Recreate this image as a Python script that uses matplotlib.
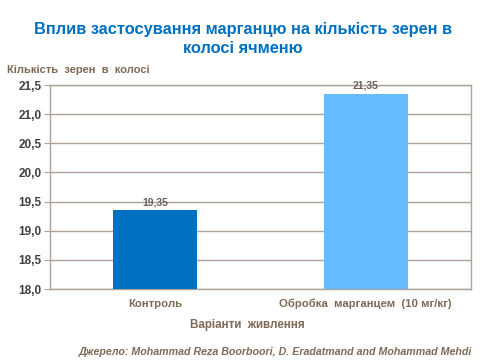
import matplotlib
matplotlib.use("Agg")
import matplotlib.pyplot as plt

categories = ["Контроль", "Обробка  марганцем  (10 мг/кг)"]
values = [19.35, 21.35]
value_labels = ["19,35", "21,35"]
yticks = [18.0, 18.5, 19.0, 19.5, 20.0, 20.5, 21.0, 21.5]
ytick_labels = ["18,0", "18,5", "19,0", "19,5", "20,0", "20,5", "21,0", "21,5"]
bar_colors = ["#0070C0", "#66BBFF"]

plt.rcParams['font.family'] = ['Liberation Sans', 'DejaVu Sans']

fig = plt.figure(figsize=(4.8, 3.6), dpi=100)
W, H = 480, 360
left, right, top, bottom = 50, 471, 85, 289
ax = fig.add_axes([left / W, 1 - bottom / H, (right - left) / W, (bottom - top) / H])

text_brown = "#7F6A55"
grid_col = "#ADA397"

x = list(range(len(categories)))
ax.bar(x, values, width=0.4, color=bar_colors, zorder=3)
ax.set_xlim(-0.5, 1.5)
ax.set_ylim(18.0, 21.5)
ax.set_yticks(yticks)
ax.set_yticklabels(ytick_labels, fontsize=8.5, fontweight='bold', color="#404040")
ax.set_xticks(x)
ax.set_xticklabels(categories, fontsize=8.2, fontweight='bold', color=text_brown)
ax.tick_params(axis='y', length=4, color=grid_col, pad=2)
ax.tick_params(axis='x', length=0, pad=7)
ax.grid(axis='y', color=grid_col, linewidth=1, zorder=1)
for s in ax.spines.values():
    s.set_color(grid_col)
    s.set_linewidth(1)

for xi, v, lab in zip(x, values, value_labels):
    ax.annotate(lab, (xi, v), xytext=(0, 2), textcoords='offset points',
                ha='center', va='bottom', fontsize=7.5, fontweight='bold',
                color="#6B6258", zorder=4)

fig.text(247 / W, 1 - 325 / H, "Варіанти  живлення", ha='center', va='center',
         fontsize=8.4, fontweight='bold', color=text_brown)
fig.text(7 / W, 1 - 70 / H, "Кількість  зерен  в  колосі", ha='left', va='center',
         fontsize=8.0, fontweight='bold', color=text_brown)
fig.text(243 / W, 1 - 39 / H, "Вплив застосування марганцю на кількість зерен в\nколосі ячменю",
         ha='center', va='center', fontsize=11.8, fontweight='bold', color="#0070C0",
         linespacing=1.3)
fig.text(472 / W, 1 - 352 / H,
         "Джерело: Mohammad Reza Boorboori, D. Eradatmand and Mohammad Mehdi",
         ha='right', va='center', fontsize=7.7, fontweight='bold', style='italic',
         color=text_brown)

fig.savefig("out.png", dpi=100)
